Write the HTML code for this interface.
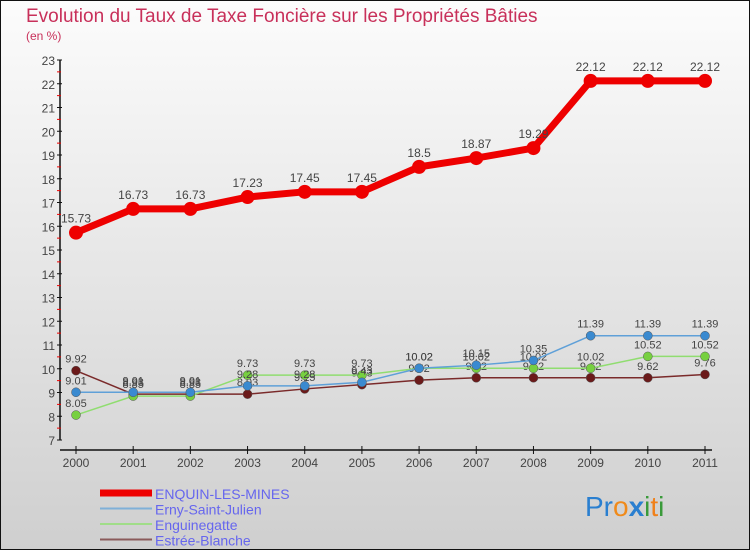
<!DOCTYPE html>
<html><head><meta charset="utf-8"><style>
body{margin:0;}
#wrap{width:750px;height:550px;position:relative;overflow:hidden;}
svg text{font-family:"Liberation Sans",sans-serif;}
</style></head><body>
<div id="wrap">
<svg id="svg" width="750" height="550" xmlns="http://www.w3.org/2000/svg">
<defs><linearGradient id="bg" x1="0" y1="0" x2="0" y2="1"><stop offset="0" stop-color="#fcfcfc"/><stop offset="1" stop-color="#cfcfcf"/></linearGradient></defs>
<rect x="0" y="0" width="750" height="550" fill="url(#bg)" stroke="#111" stroke-width="2"/>
<text x="26" y="22" font-size="19" fill="#c8305a">Evolution du Taux de Taxe Foncière sur les Propriétés Bâties</text>
<text x="26" y="40" font-size="12" fill="#c8305a">(en %)</text>
<g id="axes"></g><g id="series"></g><g id="legend"></g>
<text x="585" y="516" font-size="28" font-family="Liberation Sans,sans-serif"><tspan fill="#2a7fd0">Pr</tspan><tspan fill="#f08a1a">o</tspan><tspan fill="#2a7fd0" font-weight="bold">x</tspan><tspan fill="#3a9a3a">i</tspan><tspan fill="#f0801a">t</tspan><tspan fill="#3a9a3a">i</tspan></text>
</svg></div>
<script>
const years=["2000","2001","2002","2003","2004","2005","2006","2007","2008","2009","2010","2011"];
const yTicks=[7,8,9,10,11,12,13,14,15,16,17,18,19,20,21,22,23];
const enquin=[15.73,16.73,16.73,17.23,17.45,17.45,18.5,18.87,19.29,22.12,22.12,22.12];
const erny=[9.01,9.01,9.01,9.28,9.28,9.43,10.02,10.15,10.35,11.39,11.39,11.39];
const engu=[8.05,8.85,8.85,9.73,9.73,9.73,10.02,10.02,10.02,10.02,10.52,10.52];
const estree=[9.92,8.93,8.93,8.93,9.15,9.33,9.52,9.62,9.62,9.62,9.62,9.76];
const names=["ENQUIN-LES-MINES","Erny-Saint-Julien","Enguinegatte","Estrée-Blanche"];
const NS="http://www.w3.org/2000/svg";
const xs=i=>76+i*(705-76)/(years.length-1);
const ys=v=>440-(v-7)*(380/16);
function mk(t,a,p){const e=document.createElementNS(NS,t);for(const k in a)e.setAttribute(k,a[k]);p.appendChild(e);return e;}
const ax=document.getElementById('axes');
let l=mk('line',{x1:60,y1:ys(23),x2:60,y2:ys(7),stroke:'#111','stroke-width':1.5},ax);


l=mk('line',{x1:60,y1:450,x2:712,y2:450,stroke:'#111','stroke-width':1.5},ax);


yTicks.forEach(v=>{
 mk('line',{x1:57,x2:62,y1:ys(v),y2:ys(v),stroke:'#111'},ax);
 if(v<23) mk('line',{x1:57,x2:61,y1:ys(v+0.5),y2:ys(v+0.5),stroke:'#e00'},ax);
 const t=mk('text',{x:55,y:ys(v)+5,'text-anchor':'end','font-size':12,fill:'#444'},ax);t.textContent=v;
 
 
});
years.forEach((y,i)=>{
 mk('line',{x1:xs(i),x2:xs(i),y1:446,y2:454,stroke:'#111'},ax);
 const t=mk('text',{x:xs(i),y:467,'text-anchor':'middle','font-size':12,fill:'#444'},ax);t.textContent=y;
 
 
});
const sg=document.getElementById('series');
const S=[[estree,'#7a2a2a','#6b1a1a',1.5,4.5],[engu,'#90dd70','#77d040',1.5,4.5],[erny,'#5fa0d8','#3a8ad0',1.5,4.5],[enquin,'#ee0000','#ee0000',7,7]];
const snames=['estree-blanche','enguinegatte','erny-saint-julien','enquin-les-mines'];
S.forEach((s,k)=>{
 const g=mk('g',{},sg);
 
 
 const p=mk('polyline',{points:s[0].map((v,i)=>xs(i)+','+ys(v)).join(' '),fill:'none',stroke:s[1],'stroke-width':s[3],'stroke-linejoin':'round'},g);
 
 
 s[0].forEach((v,i)=>{
  const c=mk('circle',{cx:xs(i),cy:ys(v),r:s[4],fill:s[2],stroke:k==3?'none':'#555','stroke-width':0.5},g);
  
  
  const t=mk('text',{x:xs(i),y:ys(v)-(k==3?10:8),'text-anchor':'middle','font-size':k==3?12:11,fill:'#444'},g);t.textContent=v;
  
  
 });
});
const lg=document.getElementById('legend');
const lc=['#ee0000','#7fb0d8','#a0dd88','#8a5a5a'],lw=[7,2,2,2];
names.forEach((n,i)=>{
 const y=493+i*15.5;
 const g=mk('g',{},lg);
 
 
 mk('line',{x1:100,x2:152,y1:y,y2:y,stroke:lc[i],'stroke-width':lw[i]},g);
 const t=mk('text',{x:155,y:y+6,'font-size':14,fill:'#6666ee'},g);t.textContent=n;
});
</script>
</body></html>
